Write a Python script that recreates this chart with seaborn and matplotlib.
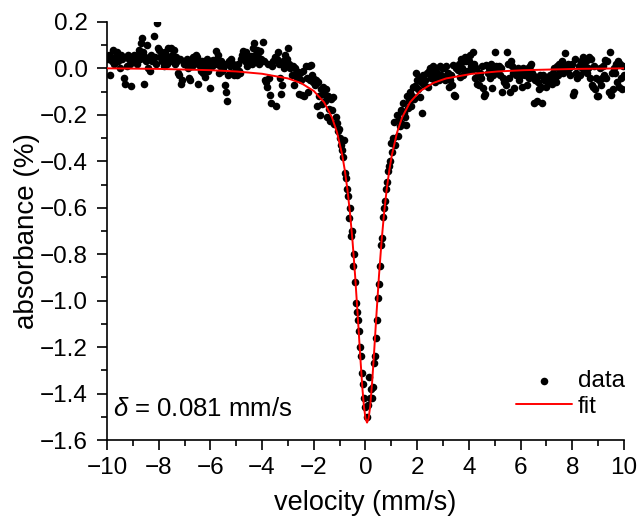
import numpy as np
import pandas as pd
import matplotlib
matplotlib.use("Agg")
import matplotlib.pyplot as plt
from matplotlib.ticker import MultipleLocator
import seaborn as sns

# ---- data (absorbance in %, read per 1 mm/s slice, 25 channels each) ----
seg_m10 = [0.05, 0.04, 0.06, -0.03, 0.05, 0.03, 0.08, 0.02, 0.05, 0.04, 0.07, 0.03, 0.05, 0.00, 0.06, 0.04, -0.04, -0.065, 0.05, 0.01, 0.06, 0.04, 0.02, -0.075, 0.05]
seg_m9 = [0.04, 0.06, 0.03, 0.05, 0.02, 0.06, 0.08, 0.04, 0.11, 0.13, 0.07, -0.065, 0.05, 0.03, 0.10, 0.00, 0.04, -0.01, 0.06, 0.03, 0.14, 0.05, 0.02, 0.195, 0.09]
seg_m8 = [0.08, 0.05, 0.07, 0.03, 0.06, 0.01, 0.07, 0.04, 0.02, 0.09, 0.05, 0.03, 0.09, 0.06, 0.04, 0.08, 0.02, 0.05, 0.03, -0.02, -0.03, 0.04, -0.065, -0.05, 0.02]
seg_m7 = [0.03, 0.02, 0.04, 0.00, -0.04, -0.05, 0.03, 0.01, 0.05, 0.02, 0.04, 0.06, 0.05, -0.065, 0.02, 0.01, -0.01, 0.03, -0.02, 0.00, -0.035, 0.02, 0.04, -0.01, 0.015]
seg_m6 = [-0.085, 0.03, 0.01, 0.035, 0.02, 0.075, 0.04, 0.06, -0.02, 0.01, 0.03, -0.01, 0.00, 0.02, -0.07, -0.10, -0.14, -0.03, 0.03, 0.01, 0.04, -0.02, 0.02, -0.03, 0.01]
seg_m5 = [0.00, -0.03, 0.02, -0.01, -0.02, 0.04, 0.06, 0.075, 0.03, 0.07, 0.01, 0.05, 0.035, 0.04, 0.055, 0.02, 0.09, 0.11, 0.06, 0.03, 0.08, 0.05, 0.02, 0.075, 0.04]
seg_m4 = [0.03, 0.115, 0.03, -0.05, -0.06, -0.08, 0.02, -0.04, -0.115, -0.15, 0.01, 0.03, 0.05, -0.16, 0.04, 0.07, 0.02, -0.04, -0.11, -0.07, 0.03, 0.00, 0.06, 0.02, 0.04]
seg_m3 = [0.087, 0.02, 0.00, 0.01, -0.03, 0.01, -0.07, 0.00, -0.02, -0.04, -0.015, -0.11, -0.02, -0.05, -0.115, -0.01, -0.12, 0.01, -0.04, -0.10, 0.01, -0.05, 0.015, -0.03, -0.06]
seg_m2 = [-0.045, -0.07, -0.05, -0.16, -0.06, -0.12, -0.20, -0.09, -0.155, -0.08, -0.11, -0.14, -0.09, -0.21, -0.12, -0.175, -0.227, -0.13, -0.18, -0.125, -0.24, -0.21, -0.235, -0.27, -0.26]
seg_m1 = [-0.30, -0.33, -0.35, -0.38, -0.31, -0.45, -0.47, -0.52, -0.55, -0.645, -0.60, -0.72, -0.70, -0.85, -0.80, -0.92, -1.01, -1.05, -1.085, -1.13, -1.20, -1.24, -1.31, -1.36, -1.42]
seg_p0 = [-1.46, -1.50, -1.45, -1.33, -1.42, -1.38, -1.42, -1.37, -1.27, -1.24, -1.16, -1.085, -0.99, -0.93, -0.85, -0.76, -0.73, -0.64, -0.60, -0.57, -0.52, -0.49, -0.44, -0.42, -0.40]
seg_p1 = [-0.32, -0.36, -0.30, -0.23, -0.33, -0.20, -0.29, -0.22, -0.25, -0.18, -0.24, -0.15, -0.19, -0.21, -0.245, -0.12, -0.17, -0.14, -0.10, -0.16, -0.12, -0.08, -0.13, -0.075, -0.02]
seg_p2 = [-0.05, -0.09, -0.04, -0.125, -0.06, -0.19, -0.03, -0.07, -0.05, -0.02, -0.08, -0.01, 0.00, -0.04, -0.01, 0.01, -0.03, -0.06, 0.00, -0.02, -0.04, -0.05, 0.01, -0.03, 0.00]
seg_p3 = [-0.04, 0.00, -0.05, 0.01, -0.03, -0.02, -0.08, -0.05, -0.03, -0.07, 0.015, -0.115, -0.12, 0.00, -0.005, 0.02, -0.035, 0.04, 0.00, -0.03, 0.03, 0.05, 0.03, -0.01, 0.04]
seg_p4 = [0.03, 0.06, 0.01, -0.005, 0.07, 0.02, -0.04, 0.00, -0.065, -0.03, -0.07, -0.02, -0.04, 0.01, -0.085, -0.12, -0.11, 0.015, -0.02, 0.00, -0.04, 0.02, -0.085, -0.03, 0.00]
seg_p5 = [0.07, 0.01, -0.02, 0.00, 0.01, -0.03, 0.00, -0.10, -0.04, -0.06, -0.05, -0.07, 0.07, 0.02, -0.04, -0.10, 0.03, 0.01, -0.02, -0.085, -0.01, -0.03, 0.00, -0.05, -0.02]
seg_p6 = [-0.03, -0.08, 0.00, -0.01, -0.03, -0.02, -0.07, 0.00, -0.04, 0.01, 0.02, -0.02, -0.03, -0.15, -0.05, -0.04, -0.14, -0.06, -0.09, -0.03, -0.08, -0.15, -0.03, -0.05, -0.04]
seg_p7 = [-0.08, -0.04, -0.06, -0.03, -0.05, -0.065, -0.02, 0.00, -0.04, -0.06, 0.01, -0.03, 0.02, -0.01, 0.015, 0.03, -0.02, 0.00, 0.065, 0.01, -0.01, 0.02, 0.00, -0.03, 0.01]
seg_p8 = [0.02, -0.115, -0.10, 0.04, -0.02, -0.04, 0.01, -0.03, 0.03, 0.00, 0.05, 0.02, -0.01, 0.03, -0.02, 0.00, 0.05, -0.04, 0.04, -0.07, -0.08, 0.01, -0.09, -0.04, -0.12]
seg_p9 = [-0.12, -0.05, 0.00, -0.07, -0.04, 0.01, -0.03, 0.035, -0.04, 0.03, -0.10, 0.07, -0.115, -0.02, -0.09, 0.00, -0.02, 0.02, -0.06, 0.03, -0.08, 0.02, -0.04, -0.09, 0.01, -0.03]

segments = [seg_m10, seg_m9, seg_m8, seg_m7, seg_m6, seg_m5, seg_m4, seg_m3, seg_m2, seg_m1,
            seg_p0, seg_p1, seg_p2, seg_p3, seg_p4, seg_p5, seg_p6, seg_p7, seg_p8, seg_p9]
absorbance = [v for seg in segments for v in seg]
velocity = np.linspace(-10, 10, len(absorbance))

# fitted curve
fit_velocity = [-10, -8, -6, -5, -4, -3, -2.5, -2, -1.6, -1.3, -1.1, -0.9, -0.8, -0.7, -0.6, -0.5, -0.4,
                -0.3, -0.2, -0.12, -0.06, 0.0, 0.06, 0.12, 0.18, 0.26, 0.32, 0.42, 0.52, 0.62, 0.72,
                0.82, 0.92, 1.02, 1.22, 1.42, 1.72, 2.12, 2.62, 3.12, 4.12, 5.12, 6.12, 8.12, 10]
fit_absorbance = [0.0004, -0.002, -0.0075, -0.013, -0.023, -0.043, -0.0625, -0.097, -0.146, -0.210,
                  -0.276, -0.373, -0.439, -0.521, -0.622, -0.746, -0.895, -1.066, -1.245, -1.377,
                  -1.456, -1.507, -1.525, -1.507, -1.456, -1.346, -1.245, -1.066, -0.895, -0.746,
                  -0.622, -0.521, -0.439, -0.373, -0.276, -0.210, -0.146, -0.097, -0.0625, -0.043,
                  -0.023, -0.013, -0.0075, -0.002, 0.0003]

df_data = pd.DataFrame({"velocity": velocity, "absorbance": absorbance})
df_fit = pd.DataFrame({"velocity": fit_velocity, "absorbance": fit_absorbance})

# ---- style ----
sns.set_style("ticks")
plt.rcParams["font.family"] = ["Liberation Sans", "DejaVu Sans"]
plt.rcParams["mathtext.fontset"] = "custom"
plt.rcParams["mathtext.it"] = "Liberation Sans:italic"
plt.rcParams["mathtext.rm"] = "Liberation Sans"
plt.rcParams["text.color"] = "black"
plt.rcParams["axes.labelcolor"] = "black"
plt.rcParams["xtick.color"] = "black"
plt.rcParams["ytick.color"] = "black"
plt.rcParams["axes.edgecolor"] = "black"

fig = plt.figure(figsize=(6.41, 5.25), dpi=100)
ax = fig.add_axes([0.1669, 0.1619, 0.8066, 0.7962])

sns.scatterplot(data=df_data, x="velocity", y="absorbance", ax=ax, color="black",
                s=30, linewidth=0, label="data", zorder=2)
sns.lineplot(data=df_fit, x="velocity", y="absorbance", ax=ax, color="#ff0000",
             linewidth=1.4, label="fit", estimator=None, sort=False, zorder=3)

ax.set_xlim(-10, 10)
ax.set_ylim(-1.6, 0.2)
ax.xaxis.set_major_locator(MultipleLocator(2))
ax.xaxis.set_minor_locator(MultipleLocator(1))
ax.yaxis.set_major_locator(MultipleLocator(0.2))
ax.yaxis.set_minor_locator(MultipleLocator(0.1))
ax.yaxis.set_major_formatter(matplotlib.ticker.FuncFormatter(
    lambda v, p: ("\u2212" if v < -1e-9 else "") + f"{abs(v):.1f}"))
ax.xaxis.set_major_formatter(matplotlib.ticker.FuncFormatter(
    lambda v, p: ("\u2212" if v < -1e-9 else "") + f"{abs(v):.0f}"))

for s in ["top", "right"]:
    ax.spines[s].set_visible(False)
for s in ["left", "bottom"]:
    ax.spines[s].set_linewidth(1.2)
ax.tick_params(which="major", direction="out", length=7, width=1.2, labelsize=17.5, pad=5)
ax.tick_params(axis="y", which="major", pad=7)
ax.tick_params(which="minor", direction="out", length=4, width=1.2)

ax.set_xlabel("velocity (mm/s)", fontsize=19.5, labelpad=8)
ax.set_ylabel("absorbance (%)", fontsize=20, labelpad=0)

ax.text(-9.75, -1.465, r"$\it{\delta}$ = 0.081 mm/s", fontsize=18.5, va="center", ha="left")

leg = ax.legend(loc="lower right", bbox_to_anchor=(1.02, 0.03), frameon=False, fontsize=17.5,
                handlelength=2.3, handletextpad=0.25, labelspacing=0.15, borderaxespad=0)

fig.savefig("out.png", dpi=100)
